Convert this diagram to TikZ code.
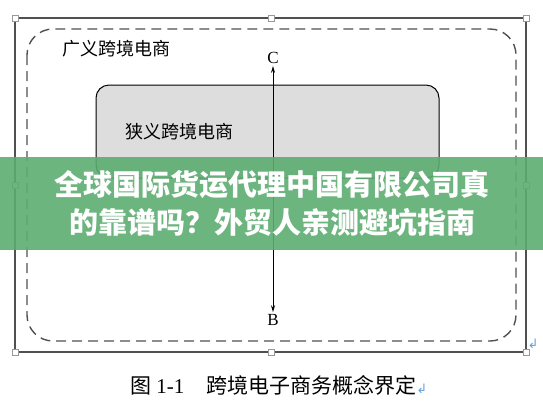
\documentclass[tikz,border=0pt]{standalone}
\usepackage{fontspec}
\setmainfont{Liberation Serif}
\newfontfamily\cjk{Noto Sans CJK SC}
\newfontfamily\symfont{DejaVu Sans}
\usetikzlibrary{arrows.meta}

\definecolor{framegray}{RGB}{80,80,80}
\definecolor{boxgray}{RGB}{221,221,221}
\definecolor{bannergreen}{RGB}{93,173,113}
\definecolor{markblue}{RGB}{100,160,215}

\tikzset{
  handle/.style={draw=gray!80, fill=white, line width=0.6pt, minimum size=6pt, inner sep=0pt},
  cjklabel/.style={font=\cjk\fontsize{18}{18}\selectfont},
  letter/.style={font=\fontsize{17}{17}\selectfont, inner sep=2pt}
}

\begin{document}
\begin{tikzpicture}[x=1pt,y=-1pt]

\useasboundingbox (0,0) rectangle (543,408);

%\draw[help lines, step=50] (0,0) grid (543,408);

% picture frame
\draw[framegray, line width=2pt] (15,18) rectangle (526,352);
\foreach \px/\py in {15/18, 271/18, 526/18, 15/185, 526/185, 15/352, 271/352, 526/352}
  \node[handle] at (\px,\py) {};

% wide sense
\draw[framegray, line width=1.4pt, dash pattern=on 10pt off 6pt, rounded corners=26pt] (27,29) rectangle (516,341);
\node (wide) at (62,49) [right, inner sep=0pt, cjklabel]{广义跨境电商};

% narrow sense
\draw[line width=1pt, fill=boxgray, rounded corners=13pt] (96,85) rectangle (439,178);
\node (narrow) at (125,132) [right, inner sep=0pt, cjklabel]{狭义跨境电商};

\node (C) at (273,58) [letter]{C};
\node (B) at (273,320) [letter]{B};
\draw[{Stealth[length=7pt,width=4pt]}-{Stealth[length=7pt,width=4pt]}, line width=1pt] (C) -- (B);

% banner over the picture
\fill[bannergreen, opacity=0.9] (0,157) rectangle (543,250);
\node (banner) at (272,203) [white, align=center, font=\cjk\bfseries\fontsize{29}{38}\selectfont]{全球国际货运代理中国有限公司真\\的靠谱吗？外贸人亲测避坑指南};

% caption
\node (caption) at (130,385) [right, inner sep=0pt, font=\fontsize{21}{21}\selectfont]{{\cjk 图} 1-1\hspace{22pt}{\cjk 跨境电子商务概念界定}{\symfont\fontsize{13}{13}\selectfont\color{markblue}↲}};
\node (mark) at (533,344) [inner sep=0pt, text=markblue, font=\symfont\fontsize{13}{13}\selectfont]{↲};

\end{tikzpicture}
\end{document}
